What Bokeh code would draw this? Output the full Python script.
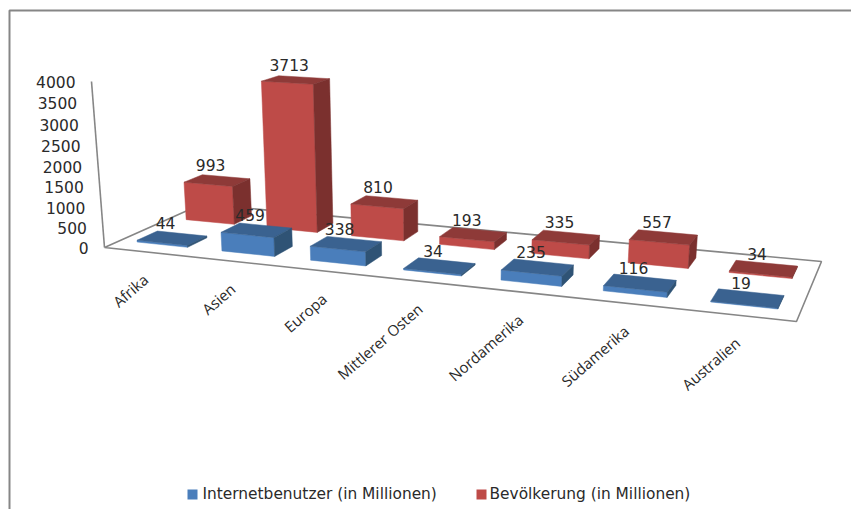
import numpy as np
from bokeh.core.properties import value
from bokeh.embed import file_html
from bokeh.models import ColumnDataSource, Range1d
from bokeh.plotting import figure
from bokeh.resources import INLINE

# Chart data
categories = ["Afrika", "Asien", "Europa", "Mittlerer Osten", "Nordamerika", "Südamerika", "Australien"]
internet_users = [44, 459, 338, 34, 235, 116, 19]
population = [993, 3713, 810, 193, 335, 557, 34]
value_ticks = [0, 500, 1000, 1500, 2000, 2500, 3000, 3500, 4000]
legend_names = ["Internetbenutzer (in Millionen)", "Bevölkerung (in Millionen)"]

W, H = 851, 509
FONT = "DejaVu Sans"
TEXT = "#2a2a2a"
AXIS = "#868686"
BLUE = ("#4a7ebb", "#3a6290", "#2f5375")  # front, top, side
RED = ("#be4b48", "#8e3a38", "#7b302e")


def floor_homography(src, dst):
    """Solve the plane-to-screen homography from four corner pairs."""
    rows, rhs = [], []
    for (u, v), (x, y) in zip(src, dst):
        rows.append([u, v, 1, 0, 0, 0, -u * x, -v * x])
        rows.append([0, 0, 0, u, v, 1, -u * y, -v * y])
        rhs += [x, y]
    h = np.linalg.solve(np.array(rows, float), np.array(rhs, float))
    return np.append(h, 1).reshape(3, 3)


n = len(categories)
Hm = floor_homography(
    [(0, 0), (n, 0), (n, 1), (0, 1)],
    [(104, 247), (796, 321), (821, 261), (201.5, 203.5)],
)
vanish = np.array([427.0, 4370.0, 1.0])
# Strength of the vertical axis, set so the 4000 gridline sits at the axis top
k = (81.0 - 247.0) / (vanish[1] - 81.0) / 4000.0


def project(u, v, z):
    vec = Hm @ np.array([u, v, 1.0]) + k * z * vanish
    return vec[0] / vec[2], vec[1] / vec[2]


p = figure(
    width=W, height=H, x_range=Range1d(0, W), y_range=Range1d(H, 0),
    output_backend="svg", toolbar_location=None, min_border=0,
    outline_line_color=None, background_fill_color="white",
)
p.xaxis.visible = False
p.yaxis.visible = False
p.grid.visible = False

# Chart frame
p.line([9, 9, W], [H, 10, 10], line_color=AXIS, line_width=2)

# Floor outline and vertical axis
corners = [project(*c, 0) for c in [(0, 0), (n, 0), (n, 1), (0, 1), (0, 0)]]
p.line([c[0] for c in corners], [c[1] for c in corners], line_color=AXIS, line_width=1.6)
ax = [project(0, 0, 0), project(0, 0, value_ticks[-1])]
p.line([a[0] for a in ax], [a[1] for a in ax], line_color=AXIS, line_width=1.6)


def add_bar(i, row, z, colours):
    u0, u1 = i + 0.2, i + 0.8
    v0, v1 = row + 0.15, row + 0.35
    faces = [
        ([(u0, v0, 0), (u1, v0, 0), (u1, v0, z), (u0, v0, z)], colours[0]),
        ([(u0, v0, z), (u1, v0, z), (u1, v1, z), (u0, v1, z)], colours[1]),
        ([(u1, v0, 0), (u1, v1, 0), (u1, v1, z), (u1, v0, z)], colours[2]),
    ]
    for pts, c in faces:
        xy = [project(*q) for q in pts]
        p.patch([a[0] for a in xy], [a[1] for a in xy], fill_color=c, line_color=c, line_width=0.5)


# Back row first so the front row overlaps it
for i, z in enumerate(population):
    add_bar(i, 0.5, z, RED)
for i, z in enumerate(internet_users):
    add_bar(i, 0.0, z, BLUE)

# Value labels above each bar
lx, ly, lt = [], [], []
for row, series in [(0.5, population), (0.0, internet_users)]:
    for i, z in enumerate(series):
        x, y = project(i + 0.5, row + 0.25, z)
        lx.append(x - 6.5)
        ly.append(y - 15)
        lt.append(str(z))
p.text(lx, ly, text=lt, text_font=value(FONT), text_font_size="15.5px", text_color=TEXT,
       text_align="center", text_baseline="middle")

# Value axis labels
tx, ty, tt = [], [], []
for t in value_ticks:
    x, y = project(0, 0, t)
    tx.append(x - 16)
    ty.append(y + 0.5)
    tt.append(str(t))
p.text(tx, ty, text=tt, text_font=value(FONT), text_font_size="15.5px", text_color=TEXT,
       text_align="right", text_baseline="middle")

# Slanted category labels
cx, cy = [], []
for i in range(n):
    x, y = project(i + 0.5, 0, 0)
    cx.append(x - 1)
    cy.append(y + 25)
p.text(cx, cy, text=categories, text_font=value("Open Sans"), text_font_size="15px", text_color=TEXT,
       text_align="right", text_baseline="middle", angle=np.deg2rad(41))

# Legend
src = ColumnDataSource(dict(x=[192, 481], y=[494, 494], c=[BLUE[0], RED[0]]))
p.scatter("x", "y", source=src, marker="square", size=10, fill_color="c", line_color="c", line_width=0)
p.text([202, 489], [493, 493], text=legend_names, text_font=value(FONT), text_font_size="15.4px",
       text_color=TEXT, text_baseline="middle")

open("out.html", "w").write(file_html(p, INLINE))
